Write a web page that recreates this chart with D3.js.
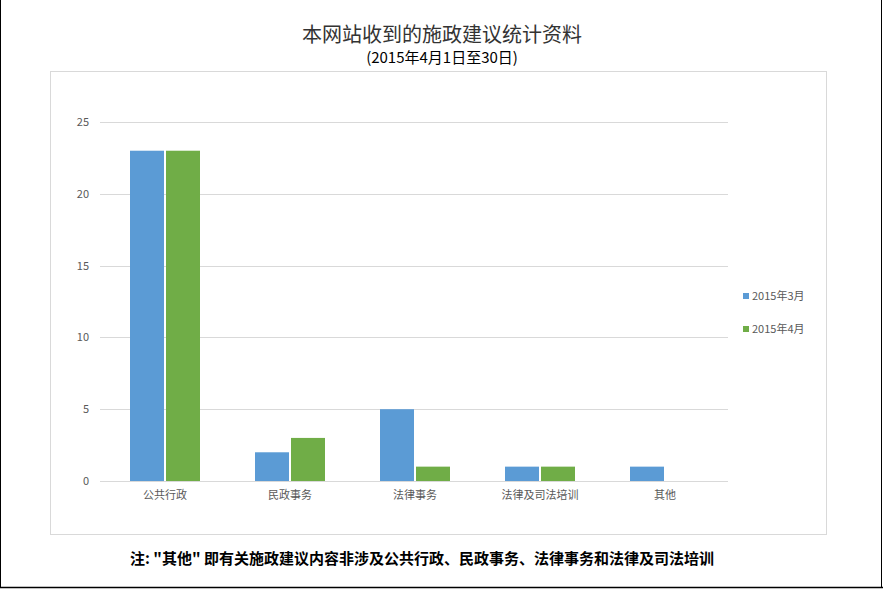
<!DOCTYPE html>
<html><head><meta charset="utf-8">
<script src="https://cdn.jsdelivr.net/npm/d3@7"></script>
<style>body{margin:0;background:#fff}</style></head>
<body><svg id="c" width="883" height="589"></svg>
<script>
const categories=["公共行政","民政事务","法律事务","法律及司法培训","其他"];
const seriesNames=["2015年3月","2015年4月"];
const march=[23,2,5,1,1];
const april=[23,3,1,1,0];
const ticks=[0,5,10,15,20,25];
const colors=["#5b9bd5","#70ad47"];
const svg=d3.select("#c");
const f="'Microsoft YaHei','Noto Sans CJK SC',sans-serif";
svg.append("line").attr("x1",0).attr("x2",883).attr("y1",587.5).attr("y2",587.5).attr("stroke","#000").attr("stroke-width",1.5);
svg.append("line").attr("x1",881.5).attr("x2",881.5).attr("y1",0).attr("y2",588).attr("stroke","#000");
svg.append("line").attr("x1",0.5).attr("x2",0.5).attr("y1",0).attr("y2",588).attr("stroke","#000");
svg.append("rect").attr("x",50.5).attr("y",71.5).attr("width",776).attr("height",463).attr("fill","#fff").attr("stroke","#d9d9d9");
svg.append("text").attr("x",442).attr("y",42).attr("text-anchor","middle").attr("font-family",f).attr("font-size",20).attr("fill","#333").text("本网站收到的施政建议统计资料");
svg.append("text").attr("x",442).attr("y",63).attr("text-anchor","middle").attr("font-family",f).attr("font-size",15).attr("fill","#000").text("(2015年4月1日至30日)");
const x=d3.scaleBand().domain(categories).range([102.5,727.5]);
const y=d3.scaleLinear().domain([0,25]).range([481,122]);
ticks.forEach(t=>{
 svg.append("line").attr("x1",100).attr("x2",728).attr("y1",Math.round(y(t))+0.5).attr("y2",Math.round(y(t))+0.5).attr("stroke","#d9d9d9");
 svg.append("text").attr("x",89).attr("y",y(t)+4).attr("text-anchor","end").attr("font-family",f).attr("font-size",11).attr("fill","#595959").text(t);
});
const bw=34,gap=2;
[march,april].forEach((s,i)=>{
 svg.selectAll(null).data(s).enter().append("rect")
 .attr("x",(d,j)=>x(categories[j])+x.bandwidth()/2-bw-gap/2+i*(bw+gap))
 .attr("y",d=>y(d)).attr("width",bw).attr("height",d=>y(0)-y(d)).attr("fill",colors[i]);
});
categories.forEach(c=>svg.append("text").attr("x",x(c)+x.bandwidth()/2).attr("y",499).attr("text-anchor","middle").attr("font-family",f).attr("font-size",11).attr("fill","#595959").text(c));
seriesNames.forEach((n,i)=>{
 const ly=297+i*33;
 svg.append("rect").attr("x",743).attr("y",ly-4).attr("width",6).attr("height",6).attr("fill",colors[i]);
 svg.append("text").attr("x",752).attr("y",ly+3).attr("font-family",f).attr("font-size",11).attr("fill","#595959").text(n);
});
svg.append("text").attr("x",422).attr("y",564).attr("text-anchor","middle").attr("font-family","'Noto Sans CJK SC',sans-serif").attr("font-weight","bold").attr("font-size",15).attr("fill","#000").text('注: "其他" 即有关施政建议内容非涉及公共行政、民政事务、法律事务和法律及司法培训');
</script></body></html>
